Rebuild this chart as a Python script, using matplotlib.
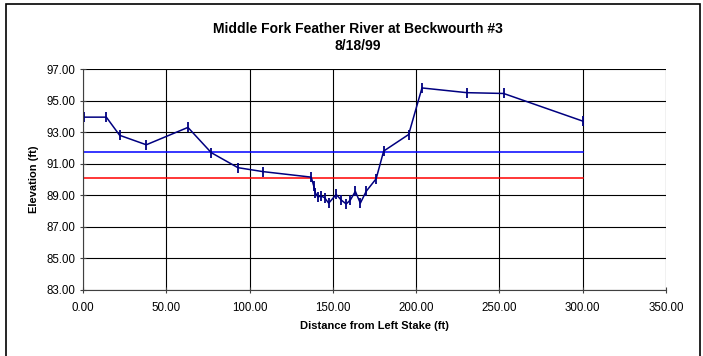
import matplotlib
matplotlib.use('Agg')
import matplotlib.pyplot as plt
from matplotlib.patches import Rectangle

plt.rcParams['font.family'] = ['Liberation Sans', 'DejaVu Sans']

# 断面测量数据 (距左桩距离 ft, 高程 ft)
distance = [0, 0.5, 14, 22, 38, 63, 77, 93, 108, 137, 138.5, 139.5, 141, 143,
            145, 147.5, 152, 155, 158, 160.5, 163.5, 166.5, 170, 176, 180.5,
            195.5, 203.5, 230.5, 252.5, 300]
elevation = [94.3, 93.95, 93.95, 92.8, 92.2, 93.3, 91.7, 90.75, 90.5, 90.15,
             89.6, 89.15, 88.9, 88.95, 88.85, 88.5, 89.05, 88.7, 88.45, 88.7,
             89.25, 88.5, 89.25, 90.05, 91.8, 92.85, 95.8, 95.5, 95.45, 93.7]

# 两条水平参考线
line_x = [0, 300]
blue_level = 91.73
red_level = 90.08

xticks = [0, 50, 100, 150, 200, 250, 300, 350]
yticks = [83, 85, 87, 89, 91, 93, 95, 97]

fig = plt.figure(figsize=(7.03, 3.56), dpi=100)
fig.patches.append(Rectangle((6 / 703, -0.05), 694 / 703, 1 - 4 / 356 + 0.05,
                             transform=fig.transFigure, fill=False,
                             edgecolor='black', linewidth=1.2))

ax = fig.add_axes([83 / 703, 1 - 290 / 356, 583 / 703, 221 / 356])
ax.plot(line_x, [blue_level, blue_level], color='#0000ff', linewidth=1.1)
ax.plot(line_x, [red_level, red_level], color='#ff0000', linewidth=1.1)
ax.plot(distance, elevation, color='#000080', linewidth=1.1,
        marker='|', markersize=7, markeredgewidth=1.3)

ax.set_xlim(0, 350)
ax.set_ylim(83, 97)
ax.set_xticks(xticks)
ax.set_yticks(yticks)
ax.set_xticklabels([f'{v:.2f}' for v in xticks], fontsize=8.3)
ax.set_yticklabels([f'{v:.2f}' for v in yticks], fontsize=8.3)
ax.grid(True, color='black', linewidth=0.8)
ax.set_axisbelow(True)
for side in ['top', 'right']:
    ax.spines[side].set_visible(False)
for side in ['left', 'bottom']:
    ax.spines[side].set_color('#404040')
ax.tick_params(direction='inout', length=5, width=0.8, color='#404040')
ax.tick_params(axis='x', pad=6)
ax.tick_params(axis='y', pad=3)

ax.set_xlabel('Distance from Left Stake (ft)', fontsize=8, fontweight='bold',
              labelpad=5)
ax.set_ylabel('Elevation (ft)', fontsize=8, fontweight='bold', labelpad=5)

fig.text(358 / 703, 1 - 29 / 356, 'Middle Fork Feather River at Beckwourth #3',
         ha='center', va='center', fontsize=10, fontweight='bold')
fig.text(358 / 703, 1 - 46 / 356, '8/18/99', ha='center', va='center',
         fontsize=10, fontweight='bold')

fig.savefig('out.png', dpi=100)
